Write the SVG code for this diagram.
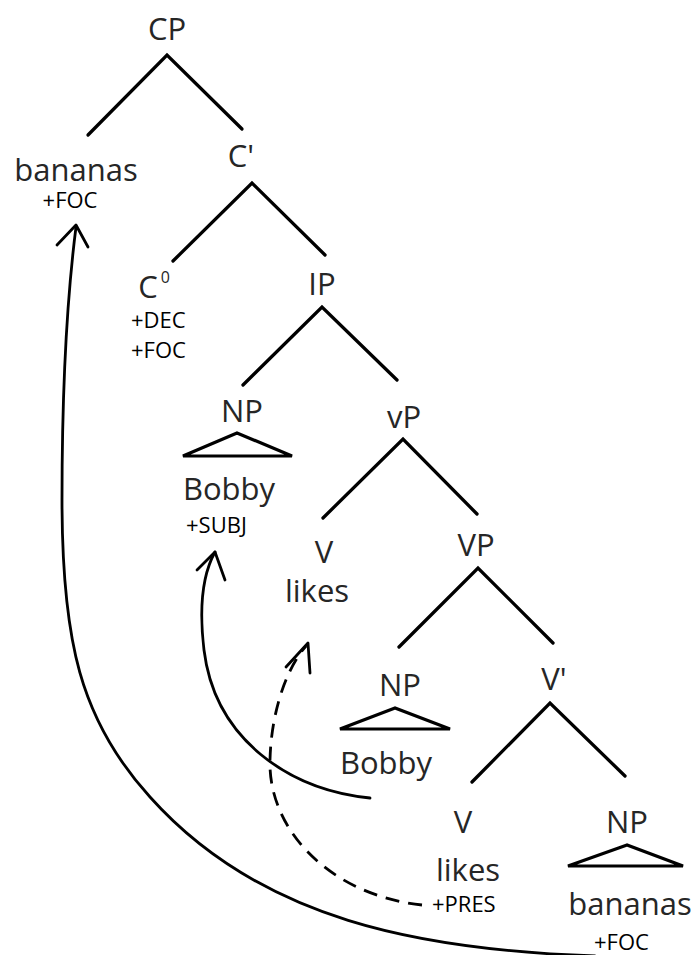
<svg xmlns="http://www.w3.org/2000/svg" width="696" height="955" viewBox="0 0 696 955">
  <style>
    .cat { font-family: "Open Sans", "Noto Sans", "Liberation Sans", sans-serif; font-size: 31px; fill: #262626; text-anchor: middle; }
    .feat { font-family: "Open Sans", "Noto Sans", "Liberation Sans", sans-serif; font-size: 22px; fill: #000; }
    .branch { fill: none; stroke: #000; stroke-width: 3.3; stroke-linecap: round; stroke-linejoin: miter; }
    .tri { fill: #fff; stroke: #000; stroke-width: 3.2; stroke-linejoin: miter; }
    .move { fill: none; stroke: #000; stroke-width: 2.8; stroke-linecap: round; stroke-linejoin: round; }
    .dash { stroke-dasharray: 14 9; stroke-linecap: butt; }
  </style>

  <!-- tree nodes -->
  <g id="cp"><text class="cat" x="167" y="40">CP</text></g>
  <g id="spec-bananas">
    <text class="cat" x="76" y="181">bananas</text>
    <text class="feat" x="70" y="208" text-anchor="middle">+FOC</text>
  </g>
  <g id="cbar"><text class="cat" x="241" y="167">C'</text></g>
  <g id="c0">
    <text class="cat" x="154" y="298" text-anchor="start">C<tspan font-size="16" dx="3" dy="-15">0</tspan></text>
    <text class="feat" x="131" y="328">+DEC</text>
    <text class="feat" x="131" y="358">+FOC</text>
  </g>
  <g id="ip"><text class="cat" x="322" y="295">IP</text></g>
  <g id="np-subj">
    <text class="cat" x="242" y="422">NP</text>
    <polygon class="tri" points="237,433 183,456 292,456"/>
    <text class="cat" x="229" y="500">Bobby</text>
    <text class="feat" x="186" y="533">+SUBJ</text>
  </g>
  <g id="vp-little"><text class="cat" x="404" y="428">vP</text></g>
  <g id="v-raised">
    <text class="cat" x="324" y="563">V</text>
    <text class="cat" x="317" y="602">likes</text>
  </g>
  <g id="vp"><text class="cat" x="476" y="556">VP</text></g>
  <g id="np-spec">
    <text class="cat" x="400" y="696">NP</text>
    <polygon class="tri" points="395,708 340,729 450,729"/>
    <text class="cat" x="386" y="774">Bobby</text>
  </g>
  <g id="vbar"><text class="cat" x="554" y="690">V'</text></g>
  <g id="v-base">
    <text class="cat" x="463" y="833">V</text>
    <text class="cat" x="468" y="881">likes</text>
    <text class="feat" x="432" y="912">+PRES</text>
  </g>
  <g id="np-obj">
    <text class="cat" x="627" y="833">NP</text>
    <polygon class="tri" points="627,845 568,866 683,866"/>
    <text class="cat" x="630" y="915">bananas</text>
    <text class="feat" x="594" y="950">+FOC</text>
  </g>

  <!-- branches and movement arrows -->
  <g id="connectors">
    <polyline class="branch" points="88,135 167,55 242,129"/>
    <polyline class="branch" points="173,261 252,183 325,255"/>
    <polyline class="branch" points="243,385 322,307 397,380"/>
    <polyline class="branch" points="323,518 403,439 477,514"/>
    <polyline class="branch" points="399,647 478,568 553,643"/>
    <polyline class="branch" points="472,782 550,703 625,776"/>

    <!-- object to Spec,CP -->
    <path class="move" d="M 595 956 C 420 950, 260 920, 150 797 C 80 720, 62 640, 62 500 C 62 380, 68 290, 76 227"/>
    <polyline class="move" points="57,245 76,225 88,247"/>

    <!-- subject to Spec,IP -->
    <path class="move" d="M 370 798 C 290 790, 215 740, 204 650 C 198 600, 205 570, 215 552"/>
    <polyline class="move" points="197,570 215,552 225,580"/>

    <!-- verb raising to v -->
    <path class="move dash" d="M 422 905 C 330 895, 268 830, 270 760 C 271 715, 285 670, 306 646"/>
    <polyline class="move" points="286,667 308,643 310,673"/>
  </g>
</svg>
